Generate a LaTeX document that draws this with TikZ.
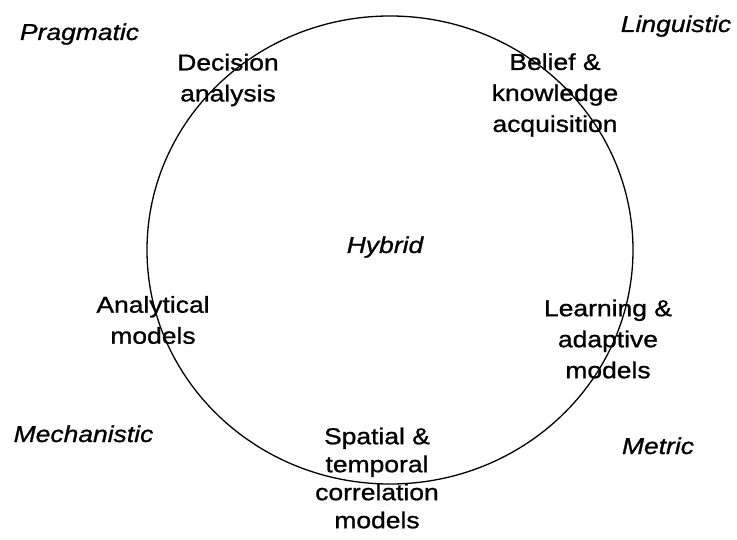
\documentclass[tikz,border=0pt]{standalone}
\usepackage{fontspec}
\setmainfont[FakeStretch=1.15,FakeBold=1]{Liberation Sans}
\usetikzlibrary{calc}

\begin{document}
\begin{tikzpicture}[x=1pt,y=-1pt,
    field/.style={font=\fontsize{23}{31}\selectfont,align=center,inner sep=0pt},
    corner/.style={font=\fontsize{23}{31}\selectfont\itshape,inner sep=0pt,anchor=base}]
       \useasboundingbox (0,0) rectangle (737,540);

       \coordinate (O) at (390,250);

       % the big ring
       \draw[line width=1.3pt] (O) ellipse [x radius=243pt, y radius=234pt];

       % the four corners and the middle
       \node[corner] (Prag) at (79.5,40) {Pragmatic};
       \node[corner] (Ling) at (676,32) {Linguistic};
       \node[corner] (Mech) at (83.5,442) {Mechanistic};
       \node[corner] (Metr) at (658,454) {Metric};
       \node[corner] (Hyb)  at (385,253) {Hybrid};

       % the fields on the ring
       \node[field] (Dec)  at (228,80)   {Decision\\analysis};
       \node[field] (Bel)  at (555,95)   {Belief \&\\knowledge\\acquisition};
       \node[field] (Ana)  at (153,320)  {Analytical\\models};
       \node[field] (Lrn)  at (608,339)  {Learning \&\\adaptive\\models};
       \node[field,font=\fontsize{23}{28}\selectfont] (Spa) at (377,478)
            {Spatial \&\\temporal\\correlation\\models};
\end{tikzpicture}
\end{document}
